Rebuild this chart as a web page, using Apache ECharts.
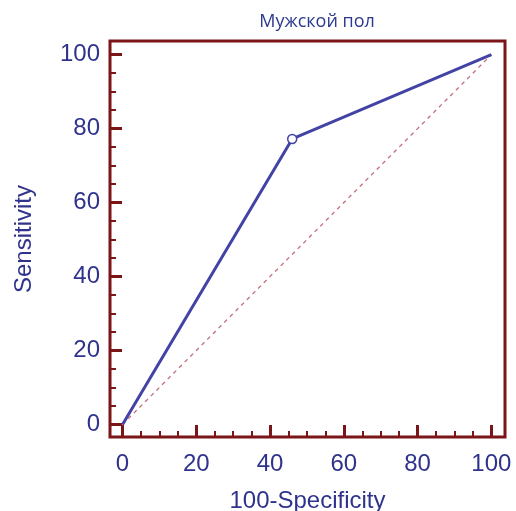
<!DOCTYPE html>
<html>
<head>
<meta charset="utf-8">
<script src="https://cdn.jsdelivr.net/npm/echarts@6/dist/echarts.min.js"></script>
<style>
  html, body { margin: 0; padding: 0; background: #fff; }
  #chart { width: 516px; height: 511px; }
</style>
</head>
<body>
<div id="chart"></div>
<script>
// ROC curve data (100-Specificity, Sensitivity)
var fpr = [0, 46, 100];
var tpr = [0, 77.2, 100];
var refX = [0, 100];
var refY = [0, 100];
var majorTicks = [0, 20, 40, 60, 80, 100];
var minorTicks = [5, 10, 15, 25, 30, 35, 45, 50, 55, 65, 70, 75, 85, 90, 95];

var axisColor = "#7b1518";
var textColor = "#30338c";

var chart = echarts.init(document.getElementById("chart"));

function mainAxis(name, isY) {
  return {
    type: "value",
    min: -3.4,
    max: 103.7,
    name: name,
    nameLocation: "middle",
    nameGap: isY ? 74 : 52,
    nameTextStyle: { fontFamily: "Liberation Sans", fontSize: 24, color: textColor },
    splitLine: { show: false },
    axisLine: { show: false, onZero: false },
    axisTick: {
      show: true, inside: true, length: 12,
      customValues: majorTicks,
      lineStyle: { color: axisColor, width: 3 }
    },
    axisLabel: {
      customValues: majorTicks,
      fontFamily: "Liberation Sans", fontSize: 24, color: textColor,
      margin: isY ? 10 : 15
    }
  };
}

function minorAxis() {
  return {
    type: "value",
    min: -3.4,
    max: 103.7,
    splitLine: { show: false },
    axisLine: { show: false, onZero: false },
    axisLabel: { show: false },
    axisTick: {
      show: true, inside: true, length: 6,
      customValues: minorTicks,
      lineStyle: { color: axisColor, width: 2 }
    }
  };
}

var xMinor = minorAxis(); xMinor.position = "bottom";
var yMinor = minorAxis(); yMinor.position = "left";

var option = {
  animation: false,
  title: {
    text: "Мужской пол",
    left: 312,
    textAlign: "center",
    top: 8,
    textStyle: { fontFamily: "Open Sans", fontSize: 18, fontWeight: "normal", color: "#2b3a8f" }
  },
  grid: {
    left: 110, top: 41, width: 395, height: 396,
    outerBoundsMode: "none",
    containLabel: false,
    show: true, borderColor: axisColor, borderWidth: 3,
    backgroundColor: "#fff"
  },
  xAxis: [mainAxis("100-Specificity", false), xMinor],
  yAxis: [mainAxis("Sensitivity", true), yMinor],
  series: [
    {
      type: "line",
      data: refX.map(function (v, i) { return [v, refY[i]]; }),
      symbol: "none",
      lineStyle: { color: "#c0707c", width: 1.3, type: [4, 4] },
      z: 2
    },
    {
      type: "line",
      data: fpr.map(function (v, i) {
        return {
          value: [v, tpr[i]],
          symbol: (i === 0 || i === fpr.length - 1) ? "none" : "circle"
        };
      }),
      symbolSize: 9,
      showAllSymbol: true,
      itemStyle: { color: "#fff", borderColor: "#4343a6", borderWidth: 1.5 },
      lineStyle: { color: "#4343a6", width: 3 },
      z: 3
    }
  ]
};

chart.setOption(option);
window.addEventListener("resize", function () {
  chart.resize();
});
</script>
</body>
</html>
